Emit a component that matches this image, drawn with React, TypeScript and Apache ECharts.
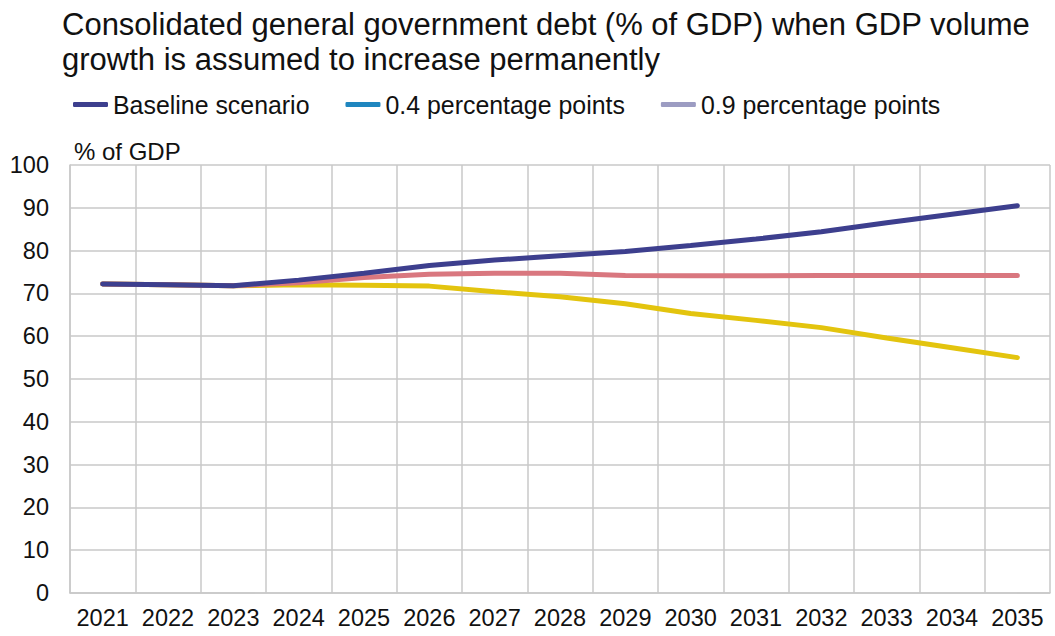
import React, { useEffect, useRef } from "react";
import * as echarts from "echarts";

const years = ["2021","2022","2023","2024","2025","2026","2027","2028","2029","2030","2031","2032","2033","2034","2035"];
const baseline = [72.2, 72.0, 71.8, 73.1, 74.7, 76.5, 77.8, 78.8, 79.8, 81.2, 82.7, 84.4, 86.5, 88.5, 90.5];
const pp04 = [72.2, 72.0, 71.8, 72.5, 73.7, 74.5, 74.7, 74.7, 74.2, 74.1, 74.1, 74.2, 74.2, 74.2, 74.2];
const pp09 = [72.2, 72.0, 71.8, 72.0, 71.9, 71.7, 70.4, 69.2, 67.6, 65.3, 63.7, 62.0, 59.6, 57.3, 55.0];
const yTicks = [0, 10, 20, 30, 40, 50, 60, 70, 80, 90, 100];
const seriesNames = ["Baseline scenario", "0.4 percentage points", "0.9 percentage points"];
const titleText = "Consolidated general government debt (% of GDP) when GDP volume\ngrowth is assumed to increase permanently";
const yUnit = "% of GDP";

const FONT = "Liberation Sans, Arial, sans-serif";

export default function App() {
  const ref = useRef<HTMLDivElement>(null);
  useEffect(() => {
    if (!ref.current) return;
    const chart = echarts.init(ref.current, null, { renderer: "svg" });
    const legendColors = ["#3d3f8e", "#1f86bf", "#9c9cc2"];
    const lineColors = ["#3d3f8e", "#d9777f", "#e3c40e"];
    chart.setOption({
      animation: false,
      backgroundColor: "#ffffff",
      textStyle: { fontFamily: FONT },
      title: {
        text: titleText,
        left: 57,
        top: 2,
        textStyle: { fontFamily: FONT, fontSize: 31, fontWeight: "normal", color: "#111", lineHeight: 35 },
      },
      legend: {
        left: 73,
        top: 92,
        padding: 0,
        itemGap: 36,
        itemWidth: 35,
        itemHeight: 5,
        icon: "roundRect",
        textStyle: { fontFamily: FONT, fontSize: 24.9, color: "#111", padding: [0, 0, 0, 0] },
        data: seriesNames.map((n, i) => ({ name: n, itemStyle: { color: legendColors[i] } })),
      },
      graphic: [
        {
          type: "text",
          left: 74,
          top: 139,
          style: { text: yUnit, fontFamily: FONT, fontSize: 24, fill: "#111" },
        },
      ],
      grid: { left: 70, right: 5, top: 165, bottom: 43, containLabel: false },
      xAxis: {
        type: "category",
        data: years,
        boundaryGap: true,
        axisLine: { show: true, lineStyle: { color: "#c8c8c8", width: 1.5 } },
        axisTick: { show: false },
        splitLine: { show: true, lineStyle: { color: "#c8c8c8", width: 1.5 } },
        axisLabel: { fontFamily: FONT, fontSize: 23.5, color: "#111", margin: 13, interval: 0 },
      },
      yAxis: {
        type: "value",
        min: 0,
        max: 100,
        interval: 10,
        axisLine: { show: true, lineStyle: { color: "#c8c8c8", width: 1.5 } },
        axisTick: { show: false },
        splitLine: { show: true, lineStyle: { color: "#c8c8c8", width: 1.5 } },
        axisLabel: {
          fontFamily: FONT,
          fontSize: 23.5,
          color: "#111",
          margin: 21,
          formatter: (v: number) => (yTicks.includes(v) ? String(v) : ""),
        },
      },
      series: [
        {
          name: seriesNames[2],
          type: "line",
          data: pp09,
          showSymbol: false,
          symbol: "none",
          z: 2,
          itemStyle: { color: legendColors[2] },
          lineStyle: { color: lineColors[2], width: 5, cap: "round" },
        },
        {
          name: seriesNames[1],
          type: "line",
          data: pp04,
          showSymbol: false,
          symbol: "none",
          z: 3,
          itemStyle: { color: legendColors[1] },
          lineStyle: { color: lineColors[1], width: 5, cap: "round" },
        },
        {
          name: seriesNames[0],
          type: "line",
          data: baseline,
          showSymbol: false,
          symbol: "none",
          z: 4,
          itemStyle: { color: legendColors[0] },
          lineStyle: { color: lineColors[0], width: 5, cap: "round" },
        },
      ],
    });
    return () => chart.dispose();
  }, []);
  return (
    <div
      ref={ref}
      style={{ position: "fixed", left: 0, top: 0, width: 1055, height: 636, background: "#fff" }}
    />
  );
}
